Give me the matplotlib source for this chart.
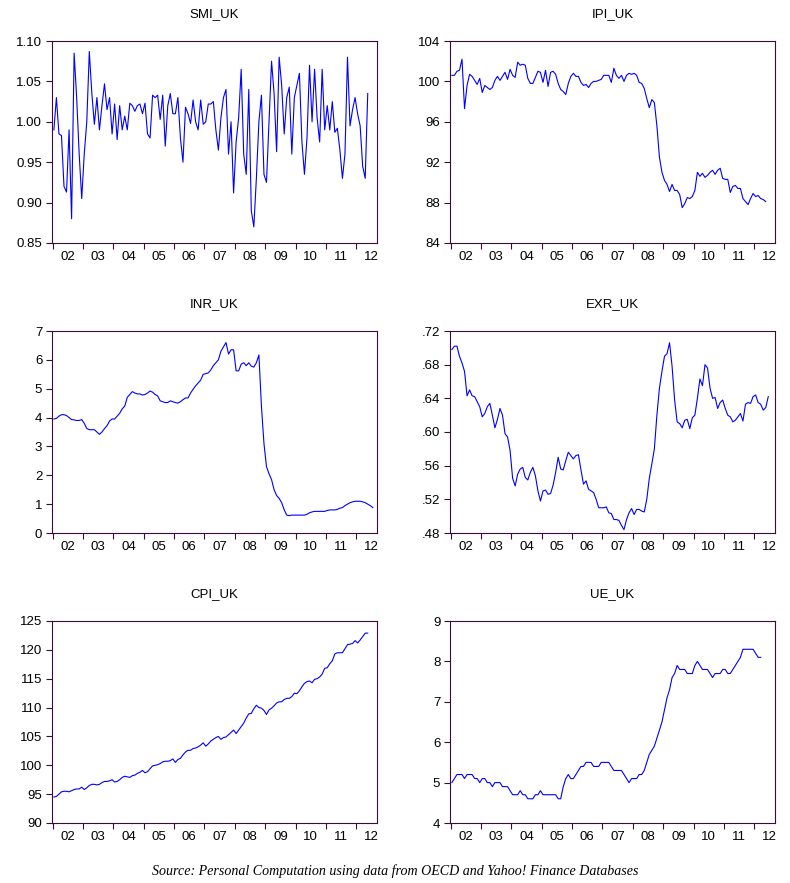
import numpy as np
import matplotlib.pyplot as plt
from matplotlib.ticker import FixedLocator, FuncFormatter, NullFormatter

# monthly series, 2002M01 onwards
year_labels = ["02", "03", "04", "05", "06", "07", "08", "09", "10", "11", "12"]

smi_uk = [
    0.99, 1.03, 0.985, 0.983, 0.92, 0.913, 0.99, 0.88, 1.085, 1.03, 0.96, 0.905,
    0.96, 1.0, 1.087, 1.035, 0.997, 1.03, 0.99, 1.02, 1.047, 1.015, 1.03, 0.985,
    1.022, 0.978, 1.02, 0.99, 1.007, 0.99, 1.023, 1.02, 1.013, 1.02, 1.022, 1.01,
    1.023, 0.985, 0.98, 1.033, 1.03, 1.033, 1.003, 1.033, 0.97, 1.02, 1.035, 1.01,
    1.01, 1.03, 0.98, 0.95, 1.018, 1.01, 0.998, 1.027, 1.0, 0.99, 1.027, 0.997,
    1.0, 1.022, 1.022, 1.025, 0.99, 0.965, 1.005, 1.03, 1.04, 0.96, 1.0, 0.912,
    0.975, 1.005, 1.065, 0.96, 0.935, 1.04, 0.89, 0.87, 0.93, 1.0, 1.033, 0.935,
    0.925, 1.0, 1.075, 1.035, 0.963, 1.08, 1.045, 0.985, 1.03, 1.043, 0.96, 1.03,
    1.045, 1.06, 0.975, 0.935, 0.98, 1.07, 1.0, 1.065, 1.005, 0.975, 1.065, 0.99,
    1.02, 0.99, 1.025, 0.987, 0.992, 0.965, 0.93, 0.96, 1.08, 0.995, 1.015, 1.03,
    1.01, 0.995, 0.945, 0.93, 1.035,
]

ipi_uk = [
    100.6, 100.6, 101.0, 101.1, 102.2, 97.3, 99.6, 100.7, 100.5, 100.1, 99.7, 100.3,
    98.9, 99.6, 99.4, 99.2, 99.4, 100.1, 100.5, 100.1, 100.5, 100.9, 100.2, 101.2,
    100.6, 100.4, 101.9, 101.6, 101.7, 101.6, 100.3, 99.8, 99.8, 100.4, 101.0, 100.9,
    99.9, 101.1, 99.5, 100.9, 101.0, 100.7, 99.8, 99.2, 99.0, 98.7, 99.8, 100.5,
    100.8, 100.5, 100.5, 99.9, 99.6, 99.7, 99.4, 99.8, 100.0, 100.0, 100.1, 100.2,
    100.6, 100.6, 100.6, 99.9, 101.3, 100.6, 100.3, 100.6, 100.0, 100.6, 100.8, 100.7,
    100.8, 100.6, 99.9, 99.8, 99.3, 98.3, 97.4, 98.2, 97.9, 95.6, 92.5, 91.0,
    90.2, 89.8, 89.1, 89.8, 89.2, 89.2, 88.8, 87.5, 87.9, 88.5, 88.4, 88.6,
    89.2, 91.0, 90.6, 90.9, 90.5, 90.7, 91.0, 91.2, 90.8, 91.2, 91.4, 90.4,
    90.3, 90.3, 89.0, 89.6, 89.7, 89.4, 89.4, 88.4, 88.1, 87.8, 88.4, 88.9,
    88.6, 88.7, 88.4, 88.3, 88.1,
]

inr_uk = [
    3.95, 3.97, 4.05, 4.1, 4.1, 4.07, 4.0, 3.93, 3.92, 3.9, 3.9, 3.93,
    3.8, 3.62, 3.58, 3.58, 3.58, 3.5, 3.42, 3.5, 3.62, 3.72, 3.88, 3.95,
    3.95, 4.05, 4.15, 4.3, 4.4, 4.7, 4.8, 4.9, 4.85, 4.82, 4.82, 4.78,
    4.8, 4.85, 4.92, 4.88, 4.8, 4.75, 4.58, 4.55, 4.52, 4.52, 4.58, 4.55,
    4.52, 4.5, 4.55, 4.62, 4.68, 4.68, 4.85, 4.98, 5.1, 5.2, 5.3, 5.5,
    5.52, 5.55, 5.65, 5.8, 5.9, 6.0, 6.3, 6.45, 6.6, 6.2, 6.35, 6.35,
    5.62, 5.62, 5.85, 5.9, 5.8, 5.9, 5.78, 5.75, 5.9, 6.17, 4.4, 3.1,
    2.3, 2.05, 1.85, 1.5, 1.3, 1.2, 1.05, 0.8, 0.62, 0.6, 0.62, 0.62,
    0.62, 0.62, 0.62, 0.62, 0.65, 0.7, 0.73, 0.75, 0.75, 0.75, 0.75, 0.75,
    0.78, 0.8, 0.8, 0.8, 0.82, 0.86, 0.88, 0.95, 1.0, 1.05, 1.08, 1.1,
    1.1, 1.1, 1.08, 1.05, 1.0, 0.95, 0.88,
]

exr_uk = [
    .698, .702, .702, .690, .682, .672, .643, .650, .643, .642, .636, .630,
    .618, .622, .630, .634, .620, .605, .615, .628, .620, .598, .594, .578,
    .545, .536, .550, .556, .558, .546, .543, .552, .558, .548, .530, .518,
    .530, .531, .526, .527, .537, .552, .570, .556, .555, .566, .576, .572,
    .568, .572, .573, .555, .538, .542, .532, .530, .528, .520, .510, .510,
    .510, .511, .504, .503, .496, .496, .495, .489, .484, .496, .504, .509,
    .502, .508, .508, .506, .505, .520, .545, .562, .580, .620, .652, .672,
    .690, .693, .706, .678, .638, .612, .610, .605, .614, .615, .604, .617,
    .620, .640, .663, .655, .680, .676, .652, .640, .641, .628, .635, .638,
    .628, .620, .618, .612, .614, .618, .622, .613, .633, .635, .634, .642,
    .644, .635, .633, .626, .629, .642,
]

cpi_uk = [
    94.5, 94.6, 95.0, 95.4, 95.5, 95.5, 95.4, 95.6, 95.8, 95.9, 95.9, 96.2,
    95.8, 96.1, 96.5, 96.7, 96.7, 96.6, 96.7, 97.0, 97.2, 97.2, 97.3, 97.5,
    97.1, 97.2, 97.5, 97.9, 98.1, 98.0, 97.9, 98.2, 98.3, 98.6, 98.8, 99.1,
    98.7, 98.9, 99.4, 99.9, 100.0, 100.1, 100.3, 100.6, 100.7, 100.7, 100.8, 101.1,
    100.5, 101.0, 101.2, 101.8, 102.3, 102.6, 102.6, 102.9, 103.0, 103.2, 103.5, 103.9,
    103.3, 103.7, 104.2, 104.5, 104.8, 105.0, 104.5, 104.8, 104.9, 105.3, 105.7, 106.1,
    105.5, 106.1, 106.7, 107.3, 108.2, 108.9, 109.0, 109.8, 110.4, 110.0, 109.9, 109.5,
    108.8, 109.6, 109.9, 110.3, 110.8, 111.0, 111.0, 111.4, 111.6, 111.6, 111.9, 112.5,
    112.4, 112.9, 113.6, 114.2, 114.5, 114.6, 114.3, 114.9, 115.0, 115.3, 115.8, 116.8,
    116.9, 117.6, 118.1, 119.3, 119.5, 119.5, 119.5, 120.2, 120.9, 121.0, 121.1, 121.6,
    121.2, 121.7, 122.3, 122.9, 122.9,
]

ue_uk = [
    5.0, 5.1, 5.2, 5.2, 5.2, 5.1, 5.2, 5.2, 5.2, 5.1, 5.1, 5.0,
    5.1, 5.1, 5.0, 5.0, 4.9, 5.0, 5.0, 5.0, 4.9, 4.9, 4.9, 4.8,
    4.7, 4.7, 4.7, 4.8, 4.7, 4.7, 4.6, 4.6, 4.6, 4.7, 4.7, 4.8,
    4.7, 4.7, 4.7, 4.7, 4.7, 4.7, 4.6, 4.6, 4.9, 5.1, 5.2, 5.1,
    5.1, 5.2, 5.3, 5.4, 5.4, 5.5, 5.5, 5.5, 5.4, 5.4, 5.4, 5.5,
    5.5, 5.5, 5.5, 5.4, 5.3, 5.3, 5.3, 5.3, 5.2, 5.1, 5.0, 5.1,
    5.1, 5.1, 5.2, 5.2, 5.3, 5.5, 5.7, 5.8, 5.9, 6.1, 6.3, 6.5,
    6.8, 7.1, 7.3, 7.6, 7.7, 7.9, 7.8, 7.8, 7.8, 7.7, 7.7, 7.7,
    7.9, 8.0, 7.9, 7.8, 7.8, 7.8, 7.7, 7.6, 7.7, 7.7, 7.7, 7.8,
    7.8, 7.7, 7.7, 7.8, 7.9, 8.0, 8.1, 8.3, 8.3, 8.3, 8.3, 8.3,
    8.2, 8.1, 8.1,
]

panels = [
    ("SMI_UK", smi_uk, np.linspace(0.85, 1.10, 6), lambda v, p: "%.2f" % v),
    ("IPI_UK", ipi_uk, np.linspace(84, 104, 6), lambda v, p: "%d" % round(v)),
    ("INR_UK", inr_uk, np.linspace(0, 7, 8), lambda v, p: "%d" % round(v)),
    ("EXR_UK", exr_uk, np.linspace(0.48, 0.72, 7), lambda v, p: ("%.2f" % v).lstrip("0")),
    ("CPI_UK", cpi_uk, np.linspace(90, 125, 8), lambda v, p: "%d" % round(v)),
    ("UE_UK", ue_uk, np.linspace(4, 9, 6), lambda v, p: "%d" % round(v)),
]

frame = "#3c0a3c"
plt.rcParams["font.family"] = ["Liberation Sans", "DejaVu Sans"]

fig = plt.figure(figsize=(7.9, 8.83), dpi=100)
W, H = 790.0, 883.0
lefts = [52, 450]
tops = [41, 331, 621]

for k, (name, vals, yt, fmt) in enumerate(panels):
    row, col = divmod(k, 2)
    ax = fig.add_axes([lefts[col] / W, 1 - (tops[row] + 202) / H, 325 / W, 202 / H])
    x = 2002 + (np.arange(len(vals)) + 0.5) / 12.0
    ax.plot(x, vals, color="#0000ff", lw=0.8)

    ax.set_xlim(2001.98, 2012.68)
    ax.set_ylim(yt[0], yt[-1])
    ax.set_yticks(yt)
    ax.yaxis.set_major_formatter(FuncFormatter(fmt))

    ax.xaxis.set_major_locator(FixedLocator(np.arange(2002, 2013)))
    ax.xaxis.set_major_formatter(NullFormatter())
    ax.xaxis.set_minor_locator(FixedLocator(np.arange(2002, 2013) + 0.5))
    ax.set_xticklabels(year_labels, minor=True)

    ax.tick_params(axis="both", which="major", direction="out", length=4,
                   width=0.8, color=frame, labelsize=9.5, pad=3)
    ax.tick_params(axis="x", which="minor", length=0, labelsize=9.5, pad=5.5)
    for s in ax.spines.values():
        s.set_color(frame)
        s.set_linewidth(0.8)

    ax.text(0.5, 1 + 27 / 202.0, name, transform=ax.transAxes,
            ha="center", va="center", fontsize=9.5)

fig.text(0.5, 1 - 871 / H,
         "Source: Personal Computation using data from OECD and Yahoo! Finance Databases",
         ha="center", va="center", fontsize=10.1, style="italic",
         family=["Liberation Serif", "DejaVu Serif"])

fig.savefig("out.png", dpi=100)
